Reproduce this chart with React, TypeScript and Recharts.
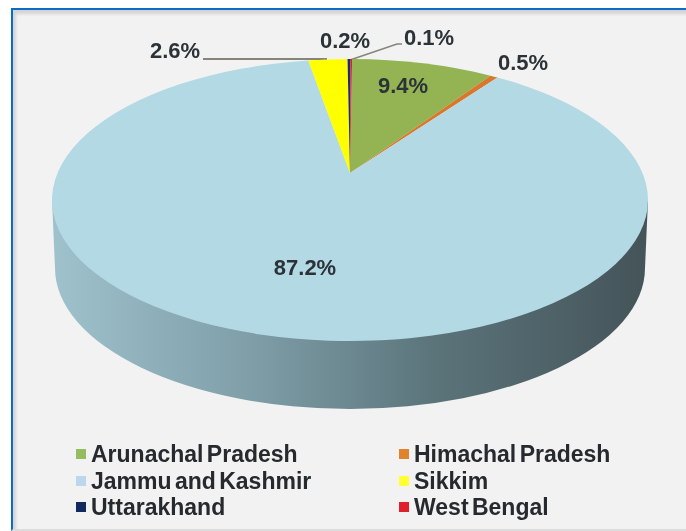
import { PieChart, Pie, Legend } from "recharts";

const categories = [
  "Arunachal Pradesh",
  "Himachal Pradesh",
  "Jammu and Kashmir",
  "Sikkim",
  "Uttarakhand",
  "West Bengal",
];
const shares = [9.4, 0.5, 87.2, 2.6, 0.2, 0.1];
const sliceColors = ["#94b454", "#d9782a", "#b3d9e5", "#ffff00", "#1a2f6b", "#e0202a"];
const legendColors = ["#94bd62", "#e0822e", "#bcd6ee", "#ffff33", "#12295f", "#e0202a"];
const labelTexts = ["9.4%", "0.5%", "87.2%", "2.6%", "0.2%", "0.1%"];

// where each percentage sits, relative to the chart box
const labelSpots = [
  [403, 85],
  [523, 62],
  [305, 267],
  [175, 50],
  [345, 40],
  [429, 37],
];

const data = categories.map((name, i) => ({ name, value: shares[i], fill: sliceColors[i] }));

// tilted pie: the rim is an ellipse, the apex sits above its middle
const APEX = { x: 350, y: 173 };
const RIM = { x: 350, y: 200, rx: 298, ry: 141 };
const DEPTH = 68;

function rimPoint(angle: number) {
  const rad = (angle * Math.PI) / 180;
  const dx = RIM.rx * Math.cos(rad);
  const dy = -RIM.ry * Math.sin(rad);
  // ray from the apex against the ellipse
  const ox = (APEX.x - RIM.x) / RIM.rx;
  const oy = (APEX.y - RIM.y) / RIM.ry;
  const ux = dx / RIM.rx;
  const uy = dy / RIM.ry;
  const a = ux * ux + uy * uy;
  const b = 2 * (ox * ux + oy * uy);
  const c = ox * ox + oy * oy - 1;
  const t = (-b + Math.sqrt(b * b - 4 * a * c)) / (2 * a);
  return { x: APEX.x + dx * t, y: APEX.y + dy * t };
}

function TiltedSlice(props: any) {
  const { startAngle, endAngle, fill } = props;
  const from = rimPoint(startAngle);
  const to = rimPoint(endAngle);
  const big = Math.abs(startAngle - endAngle) > 180 ? 1 : 0;
  const face = `M${APEX.x},${APEX.y} L${from.x},${from.y} A${RIM.rx},${RIM.ry} 0 ${big} 1 ${to.x},${to.y} Z`;
  const left = RIM.x - RIM.rx;
  const right = RIM.x + RIM.rx;
  return (
    <g>
      {big === 1 && (
        <path
          d={`M${left},${RIM.y} L${left + 3},${RIM.y + DEPTH} A${RIM.rx - 3},${RIM.ry} 0 0 0 ${right - 3},${RIM.y + DEPTH} L${right},${RIM.y} Z`}
          fill="url(#wall)"
        />
      )}
      <path d={face} fill={fill} />
    </g>
  );
}

function SliceLabel(props: any) {
  const { index } = props;
  const [x, y] = labelSpots[index];
  return (
    <text
      x={x}
      y={y}
      textAnchor="middle"
      dominantBaseline="central"
      fontFamily="Liberation Sans"
      fontWeight="bold"
      fontSize={22}
      fill="#2b3338"
    >
      {labelTexts[index]}
    </text>
  );
}

function TwoColumnLegend() {
  return (
    <div
      style={{
        display: "grid",
        gridTemplateColumns: "323px 230px",
        fontFamily: "Liberation Sans",
        fontWeight: "bold",
        fontSize: 23,
        wordSpacing: -3,
        lineHeight: "26.5px",
        color: "#26292d",
      }}
    >
      {categories.map((name, i) => (
        <div key={name} style={{ display: "flex", alignItems: "center", whiteSpace: "pre" }}>
          <span style={{ width: 10, height: 10, marginRight: 5, background: legendColors[i] }} />
          {name}
        </div>
      ))}
    </div>
  );
}

export default function App() {
  return (
    <div
      style={{
        position: "absolute",
        left: 0,
        top: 0,
        width: 686,
        height: 531,
        background: "#fff",
      }}
    >
      <div
        style={{
          position: "absolute",
          left: 11,
          top: 8,
          width: 675,
          height: 523,
          boxSizing: "border-box",
          borderLeft: "2px solid #0a6cc4",
          borderTop: "2px solid #0a6cc4",
          borderBottom: "2px solid #dcdcdc",
          background: "#f2f2f2",
          boxShadow: "inset 3px 4px 3px #d4d4d4",
        }}
      />
      <div style={{ position: "absolute", left: 0, top: 0, filter: "blur(0.6px)" }}>
        <PieChart width={686} height={531}>
          <defs>
            <linearGradient id="wall" x1="0" y1="0" x2="1" y2="0">
              <stop offset="0" stopColor="#9fc2cd" />
              <stop offset="0.35" stopColor="#7d9ca6" />
              <stop offset="0.65" stopColor="#5a7379" />
              <stop offset="1" stopColor="#445459" />
            </linearGradient>
          </defs>
          <Pie
            data={data}
            dataKey="value"
            nameKey="name"
            cx={APEX.x}
            cy={APEX.y}
            outerRadius={140}
            startAngle={89.5}
            endAngle={-270.5}
            stroke="none"
            shape={TiltedSlice}
            label={SliceLabel}
            labelLine={false}
            isAnimationActive={false}
          />
          {/* leader lines for the two thin labels */}
          <polyline points="203,59 327,59" fill="none" stroke="#85857a" strokeWidth={2} />
          <polyline points="350,60 397,44 402,44" fill="none" stroke="#85857a" strokeWidth={1.5} />
          <Legend
            content={TwoColumnLegend}
            wrapperStyle={{ position: "absolute", left: 76, top: 441, width: 560 }}
          />
        </PieChart>
      </div>
    </div>
  );
}
